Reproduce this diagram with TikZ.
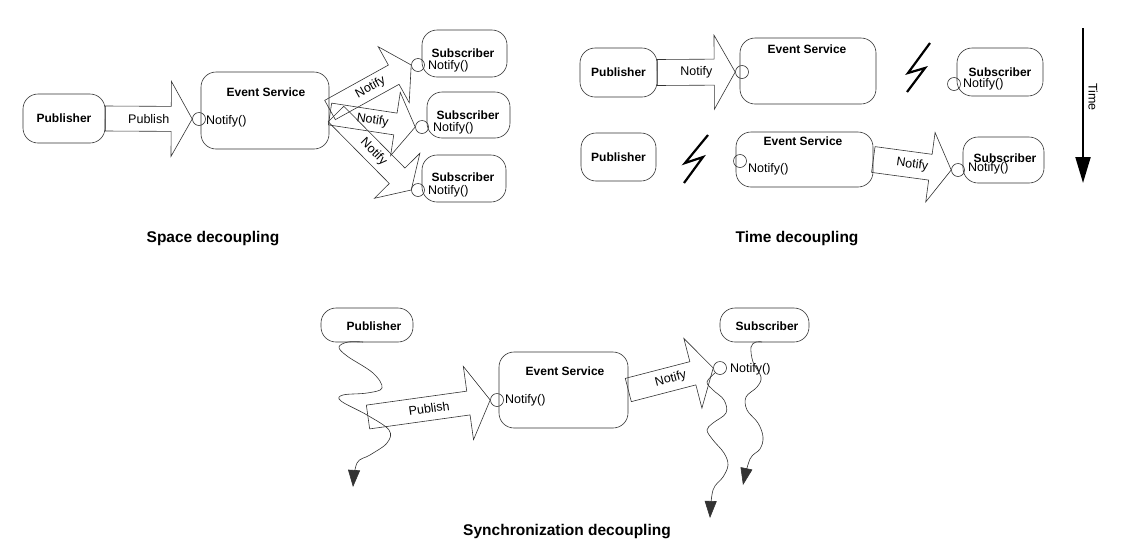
\documentclass[tikz,border=0pt]{standalone}
\usepackage{fontspec}
\setmainfont{Liberation Sans}
\usetikzlibrary{calc,arrows.meta}

\tikzset{
  box/.style={draw=black!80, line width=0.6pt, rounded corners=15pt, inner sep=0pt},
  title/.style={font=\fontsize{12}{14}\selectfont\bfseries, inner sep=0pt},
  txt/.style={font=\fontsize{12.5}{14}\selectfont, inner sep=0pt},
  caption/.style={font=\fontsize{15.5}{18}\selectfont\bfseries, inner sep=0pt},
  port/.style={circle, draw=black!80, line width=0.6pt, minimum size=13pt, inner sep=0pt},
  bigarrow/.style={draw=black!80, line width=0.6pt},
  bolt/.style={line width=2.2pt},
  wave/.style={draw=black!80, line width=0.6pt, -{Triangle[width=12pt,length=17pt]}},
  timearrow/.style={line width=2pt, -{Triangle[width=15pt,length=26pt]}}
}

% block arrow: from, to, body half width, head half width, head length, label
\newcommand{\blockarrow}[6]{%
  \coordinate (bahead) at ($(#2)!#5pt!(#1)$);
  \draw[bigarrow] ($(#1)!#3pt!90:(#2)$) -- ($(bahead)!#3pt!90:(#2)$) -- ($(bahead)!#4pt!90:(#2)$)
    -- (#2) -- ($(bahead)!#4pt!-90:(#2)$) -- ($(bahead)!#3pt!-90:(#2)$) -- ($(#1)!#3pt!-90:(#2)$) -- cycle;
  \path let \p1=(#1), \p2=(#2), \n1={atan2(\y2-\y1,\x2-\x1)} in
    ($(#1)!0.5!(#2)$) node[txt, rotate=\n1] {#6};
}

\begin{document}
\begin{tikzpicture}[x=1pt,y=-1pt]
\useasboundingbox (0,0) rectangle (1147,555);

% space decoupling
\node[box, title, minimum width=82pt, minimum height=49pt] (pubA) at (64,118.5) {Publisher};
\node[port] (cA) at (199,119) {};
\node[box, minimum width=128pt, minimum height=77pt] (esA) at (265,110.5) {};
\node[title] (esAt) at (266,92) {Event Service};
\node[txt, anchor=west] (esAn) at (206,121) {Notify()};
\blockarrow{pubA.east}{cA.west}{12.5}{37.5}{21}{Publish}

\node[box, minimum width=85pt, minimum height=47pt] (sA1) at (464.5,53.5) {};
\node[title] (sA1t) at (463,53) {Subscriber};
\node[txt, anchor=west] (sA1n) at (428,66) {Notify()};
\node[port] (cA1) at (418,65) {};
\node[box, minimum width=83pt, minimum height=46pt] (sA2) at (468.5,115) {};
\node[title] (sA2t) at (468,115) {Subscriber};
\node[txt, anchor=west] (sA2n) at (433,128) {Notify()};
\node[port] (cA2) at (422,127) {};
\node[box, minimum width=84pt, minimum height=47pt] (sA3) at (464,178.5) {};
\node[title] (sA3t) at (463,177) {Subscriber};
\node[txt, anchor=west] (sA3n) at (428,191) {Notify()};
\node[port] (cA3) at (418,190) {};

\coordinate (fan1) at (330,110);
\coordinate (fan2) at (330,114);
\coordinate (fan3) at (336,114);
\blockarrow{fan1}{cA1.west}{11}{32}{20}{Notify}
\blockarrow{fan2}{cA2.west}{11}{32}{20}{Notify}
\blockarrow{fan3}{cA3.west}{11}{32}{20}{Notify}

\node[caption] (capA) at (213,239) {Space decoupling};

% time decoupling
\node[box, title, minimum width=77pt, minimum height=49pt] (pubB) at (618.5,72.5) {Publisher};
\node[port] (cB) at (742,72) {};
\node[box, minimum width=136pt, minimum height=66pt] (esB) at (808,71) {};
\node[title] (esBt) at (807,49) {Event Service};
\blockarrow{pubB.east}{cB.west}{13}{37}{21}{Notify}
\draw[bolt] (930,43) -- (908,73) -- (925,68) -- (907,92);
\node[box, minimum width=86pt, minimum height=48pt] (sB) at (1000,72) {};
\node[title] (sBt) at (1000,72) {Subscriber};
\node[txt, anchor=west] (sBn) at (963,84) {Notify()};
\node[port] (cSB) at (954,84) {};

\node[box, title, minimum width=75pt, minimum height=48pt] (pubC) at (618.5,157) {Publisher};
\draw[bolt] (708,135) -- (685,163) -- (703,157) -- (684,183);
\node[box, minimum width=137pt, minimum height=55pt] (esC) at (804.5,159.5) {};
\node[title] (esCt) at (803,141) {Event Service};
\node[txt, anchor=west] (esCn) at (748,169) {Notify()};
\node[port] (cC) at (740,161) {};
\node[box, minimum width=81pt, minimum height=46pt] (sC) at (1003.5,160) {};
\node[title] (sCt) at (1005,158) {Subscriber};
\node[txt, anchor=west] (sCn) at (968,168) {Notify()};
\node[port] (cSC) at (958,170) {};
\blockarrow{esC.east}{cSC.west}{13}{35}{21}{Notify}

\coordinate (ttop) at (1083,28);
\coordinate (tbot) at (1083,183);
\draw[timearrow] (ttop) -- (tbot);
\node[txt, rotate=-90] (tlbl) at (1093,97) {Time};

\node[caption] (capB) at (797,239) {Time decoupling};

% synchronization decoupling
\node[box, minimum width=92pt, minimum height=34pt] (pubD) at (367,325) {};
\node[title] (pubDt) at (374,326) {Publisher};
\coordinate (pubtail) at (368,417);
\node[port] (cD) at (497,400) {};
\blockarrow{pubtail}{cD.west}{12}{37}{22}{Publish}
\node[box, minimum width=129pt, minimum height=76pt] (esD) at (563.5,390) {};
\node[title] (esDt) at (565,371) {Event Service};
\node[txt, anchor=west] (esDn) at (505,400) {Notify()};
\node[port] (cE) at (720,368) {};
\blockarrow{esD.east}{cE.west}{12}{36}{21}{Notify}
\node[box, minimum width=89pt, minimum height=34pt] (sD) at (764.5,325) {};
\node[title] (sDt) at (767,326) {Subscriber};
\node[txt, anchor=west] (sDn) at (730,369) {Notify()};

\coordinate (pubfoot) at (363,342);
\coordinate (pubend) at (353,487);
\draw[wave] plot[smooth, tension=0.6] coordinates {(pubfoot) (348,342) (339,347) (347,356) (373,373) (382,388) (367,393) (343,395) (341,401) (367,415) (389,430) (387,443) (370,455) (357,463) (pubend)};
\coordinate (portfoot) at (715,373);
\coordinate (portend) at (710,518);
\draw[wave] plot[smooth, tension=0.6] coordinates {(portfoot) (707,382) (713,390) (724,400) (726,413) (713,423) (707,430) (713,440) (724,453) (728,465) (723,477) (713,490) (portend)};
\coordinate (subfoot) at (762,342);
\coordinate (subend) at (743,485);
\draw[wave] plot[smooth, tension=0.6] coordinates {(subfoot) (756,342) (751,347) (753,362) (761,377) (757,387) (746,397) (747,410) (758,423) (763,437) (760,449) (750,459) (subend)};

\node[caption] (capC) at (567,532) {Synchronization decoupling};
\end{tikzpicture}
\end{document}
